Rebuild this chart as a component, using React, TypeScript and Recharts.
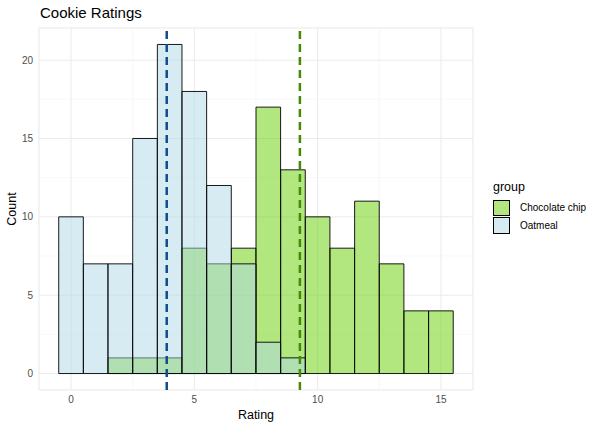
import {
  ComposedChart, Bar, XAxis, YAxis, CartesianGrid, ReferenceLine, Label,
} from "recharts";

const ratings = [0, 1, 2, 3, 4, 5, 6, 7, 8, 9, 10, 11, 12, 13, 14, 15];
const oatmealCounts = [10, 7, 7, 15, 21, 18, 12, 7, 2, 1, null, null, null, null, null, null];
const chocolateCounts = [null, null, 1, 1, 1, 8, 7, 8, 17, 13, 10, 8, 11, 7, 4, 4];
const meanRatings = { oatmeal: 3.88, chocolate: 9.28 };
const xTicks = [0, 5, 10, 15];
const yTicks = [0, 5, 10, 15, 20];
const xMinor = [2.5, 7.5, 12.5];
const yMinor = [2.5, 7.5, 12.5, 17.5];

const data = ratings.map((r, i) => ({
  rating: r,
  oatmeal: oatmealCounts[i],
  chocolate: chocolateCounts[i],
}));

const FONT = '"Liberation Sans", Arial, sans-serif';
const OAT = "#ADD8E6";
const CHOC = "#66CD00";
const X_DOMAIN: [number, number] = [-1.3, 16.3];
const Y_DOMAIN: [number, number] = [-1.05, 22.05];
// a hair under one bin, otherwise recharts shrinks bars to 90%
const BAR_PX = 434 / 17.6 - 0.05;

const legendItems = [
  { label: "Chocolate chip", fill: "rgba(102,205,0,0.5)" },
  { label: "Oatmeal", fill: "rgba(173,216,230,0.5)" },
];

const CountLabel = (props: any) => {
  const vb = props.viewBox || { x: 0, y: 28, width: 39, height: 362 };
  const cx = vb.x + 12;
  const cy = vb.y + vb.height / 2;
  return (
    <text
      x={cx}
      y={cy}
      transform={`rotate(-90, ${cx}, ${cy})`}
      textAnchor="middle"
      dominantBaseline="central"
      fontSize={12.5}
      fill="#000"
      fontFamily={FONT}
    >
      Count
    </text>
  );
};

const App = () => {
  return (
    <div style={{ position: "absolute", left: 0, top: 0, width: 600, height: 429, background: "#fff", fontFamily: FONT }}>
      <div style={{ position: "absolute", left: 40, top: 5, fontSize: 15, lineHeight: "15px", color: "#000" }}>
        Cookie Ratings
      </div>
      <ComposedChart
        width={600}
        height={429}
        data={data}
        barCategoryGap={0}
        barGap={0}
        margin={{ top: 28, right: 127, bottom: 0, left: 0 }}
      >
        <CartesianGrid xAxisId="minor" yAxisId="minor" stroke="#f3f3f3" strokeWidth={0.6} />
        <CartesianGrid xAxisId="choc" yAxisId="main" stroke="#ebebeb" strokeWidth={1} />
        <XAxis
          xAxisId="choc"
          dataKey="rating"
          type="number"
          domain={X_DOMAIN}
          ticks={xTicks}
          allowDataOverflow
          axisLine={false}
          tickLine={false}
          tickSize={6}
          tickMargin={0}
          height={39}
          tick={{ fontSize: 10, fill: "#4d4d4d", fontFamily: FONT }}
        >
          <Label value="Rating" position="insideBottom" offset={10} fontSize={12.5} fill="#000" fontFamily={FONT} />
        </XAxis>
        <XAxis xAxisId="oat" dataKey="rating" type="number" domain={X_DOMAIN} allowDataOverflow hide />
        <XAxis xAxisId="minor" dataKey="rating" type="number" domain={X_DOMAIN} ticks={xMinor} allowDataOverflow hide />
        <YAxis
          yAxisId="main"
          type="number"
          domain={Y_DOMAIN}
          ticks={yTicks}
          allowDataOverflow
          axisLine={false}
          tickLine={false}
          tickSize={6}
          tickMargin={0}
          width={39}
          tick={{ fontSize: 10, fill: "#4d4d4d", fontFamily: FONT }}
        >
          <Label content={<CountLabel />} />
        </YAxis>
        <YAxis yAxisId="minor" type="number" domain={Y_DOMAIN} ticks={yMinor} allowDataOverflow hide />
        <Bar
          xAxisId="choc"
          yAxisId="main"
          dataKey="chocolate"
          name="Chocolate chip"
          fill={CHOC}
          fillOpacity={0.5}
          stroke="#000"
          strokeWidth={0.9}
          barSize={BAR_PX}
          isAnimationActive={false}
        />
        <Bar
          xAxisId="oat"
          yAxisId="main"
          dataKey="oatmeal"
          name="Oatmeal"
          fill={OAT}
          fillOpacity={0.5}
          stroke="#000"
          strokeWidth={0.9}
          barSize={BAR_PX}
          isAnimationActive={false}
        />
        <ReferenceLine
          xAxisId="choc"
          yAxisId="main"
          x={meanRatings.oatmeal}
          stroke="#104E8B"
          strokeWidth={2.5}
          strokeDasharray="8 5"
        />
        <ReferenceLine
          xAxisId="choc"
          yAxisId="main"
          x={meanRatings.chocolate}
          stroke="#458B00"
          strokeWidth={2.5}
          strokeDasharray="8 5"
        />
      </ComposedChart>
      <div style={{ position: "absolute", left: 493, top: 180, fontSize: 12.5, lineHeight: "14px", color: "#000" }}>
        group
      </div>
      {legendItems.map((item, i) => (
        <div
          key={item.label}
          style={{ position: "absolute", left: 493, top: 199 + i * 17.6, height: 17.6, display: "flex", alignItems: "center" }}
        >
          <div
            style={{
              width: 17,
              height: 16.6,
              boxSizing: "border-box",
              border: "0.8px solid #000",
              background: item.fill,
            }}
          />
          <span style={{ marginLeft: 10, fontSize: 10, color: "#000" }}>{item.label}</span>
        </div>
      ))}
    </div>
  );
};

export default App;
